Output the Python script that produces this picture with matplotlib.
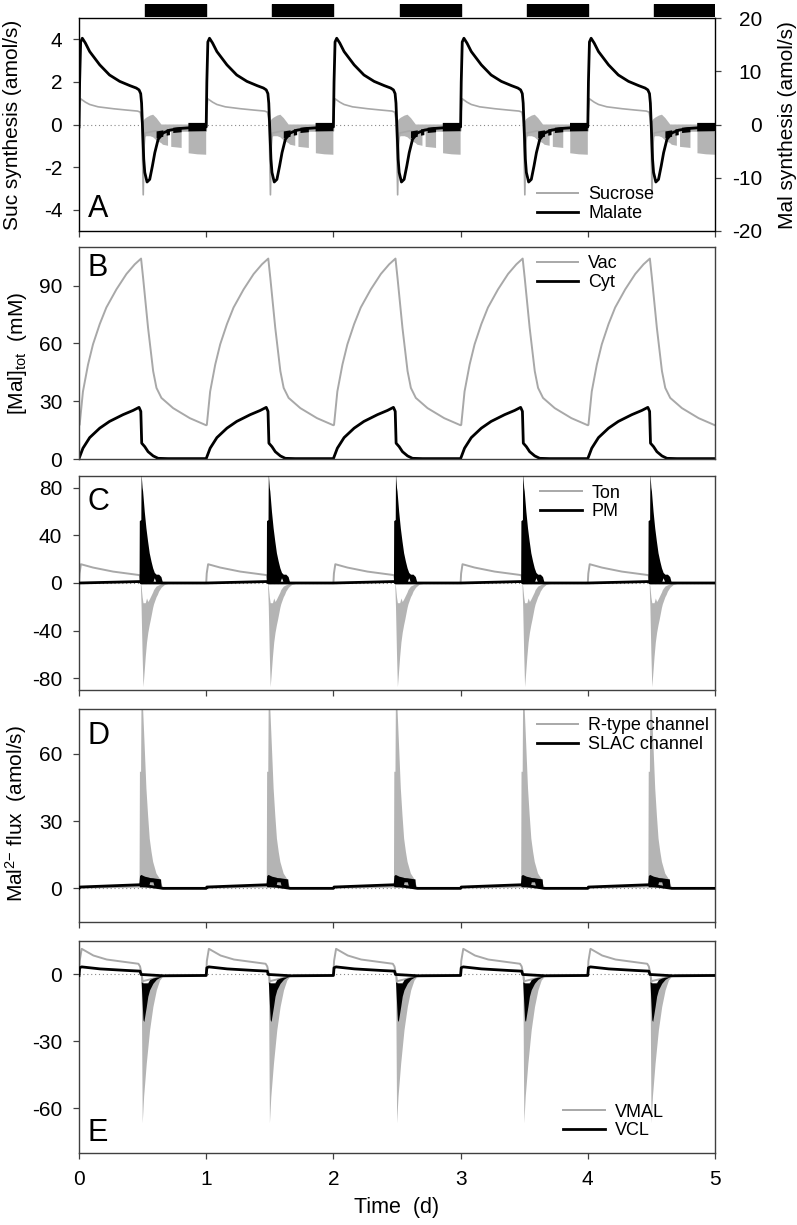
import numpy as np
import matplotlib
matplotlib.use('Agg')
import matplotlib.pyplot as plt

plt.rcParams.update({
    'font.family': 'Liberation Sans',
    'mathtext.fontset': 'custom',
    'mathtext.rm': 'Liberation Sans',
    'mathtext.it': 'Liberation Sans:italic',
    'axes.unicode_minus': False,
})

GRAY = '#a8a8a8'; FILL = '#b4b4b4'; INK = 'black'; SPINE = '#404040'

# the five simulated days look the same, so one day is read off and repeated
DAYS = [0, 1, 2, 3, 4]
night_start = [0.52, 1.52, 2.52, 3.52, 4.52]
night_end = [1.0, 2.0, 3.0, 4.0, 5.0]

# ---- A: sucrose (left, amol/s) and malate (right, amol/s) ----
suc_t = [0.0, 0.004, 0.012, 0.05, 0.084, 0.15, 0.27, 0.37, 0.46, 0.482, 0.49, 0.495, 0.505, 0.512, 0.52, 0.6, 1.0]
suc_v = [-0.3, 0.6, 1.21, 1.05, 0.94, 0.83, 0.74, 0.68, 0.63, 0.58, 0.3, 0.0, -3.3, -1.0, -0.4, -0.3, -0.3]
suc_band_t = [0.49, 0.50, 0.505, 0.51, 0.515, 0.53, 0.56, 0.583, 0.61, 0.648, 0.66, 0.70, 0.7001, 0.725, 0.7251,
              0.807, 0.8071, 0.862, 0.8621, 0.93, 1.0]
suc_band_hi = [0.0, 0.1, 0.15, 0.2, 0.25, 0.32, 0.42, 0.46, 0.3, 0.0, 0.0, 0.0, 0.0, 0.0, 0.0,
               0.0, 0.0, 0.0, 0.0, 0.0, 0.0]
suc_band_lo = [0.0, -1.5, -2.6, -1.6, -0.6, -0.55, -0.55, -0.6, -0.75, -0.88, -0.95, -1.0, -0.3, -0.3, -1.05,
               -1.1, -0.3, -0.3, -1.35, -1.4, -1.42]
mal_t = [0.0, 0.005, 0.013, 0.026, 0.05, 0.084, 0.163, 0.24, 0.32, 0.40, 0.45, 0.472, 0.485, 0.492, 0.499,
         0.509, 0.517, 0.535, 0.556, 0.577, 0.596, 0.622, 0.66, 0.714, 0.79, 0.9, 1.0]
mal_v = [-0.45, 8.0, 15.5, 16.2, 15.3, 13.7, 11.2, 9.3, 8.1, 7.3, 6.85, 6.5, 5.8, 4.0, -0.3,
         -6.5, -9.0, -10.8, -10.3, -7.8, -5.3, -2.8, -1.6, -1.06, -0.75, -0.56, -0.45]
mal_band_t = [0.61, 0.663, 0.6631, 0.689, 0.6891, 0.715, 0.7151, 0.741, 0.7411, 0.807, 0.8071, 0.86, 0.8601, 1.0]
mal_band_hi = [-1.3, -1.1, -1.1, -1.0, -0.9, -0.9, -0.9, -0.8, -0.6, -0.5, -0.5, -0.4, 0.3, 0.3]
mal_band_lo = [-2.6, -2.3, -1.1, -1.0, -2.1, -2.0, -0.9, -0.8, -1.6, -1.45, -0.5, -0.4, -1.3, -1.25]

# ---- B: total malate (mM) ----
vac_t = [0.0, 0.005, 0.031, 0.071, 0.11, 0.163, 0.215, 0.294, 0.373, 0.438, 0.488, 0.504, 0.543, 0.583,
         0.609, 0.648, 0.74, 0.871, 1.0]
vac_v = [17.5, 17.7, 35, 49, 59.5, 70, 78.6, 88, 96, 101, 104, 94, 68, 45.6, 36.9, 31.7, 26.4, 21.2, 17.5]
cyt_t = [0.0, 0.031, 0.084, 0.163, 0.24, 0.346, 0.425, 0.472, 0.486, 0.493, 0.517, 0.543, 0.583, 0.622, 0.7, 1.0]
cyt_v = [0.2, 5.6, 11.1, 16, 19.5, 23, 25.2, 26.8, 24.7, 8.2, 6.4, 3.8, 1.6, 0.35, 0.2, 0.2]

# ---- C: tonoplast and plasma membrane flux ----
ton_t = [0.0, 0.004, 0.015, 0.11, 0.268, 0.465, 0.478, 0.49, 1.0]
ton_v = [0.0, 8.0, 15.8, 13.0, 9.6, 6.8, 6.5, 0.0, 0.0]
ton_band_t = [0.486, 0.492, 0.50, 0.507, 0.514, 0.525, 0.535, 0.545, 0.556, 0.565, 0.583, 0.59, 0.61, 0.62,
              0.63, 0.65, 0.675, 0.68, 0.72, 0.76]
ton_band_hi = [0.0, -3, -12, -17, -17, -17, -13, -16, -14, -12, -8, -6, -3, -2.5, -2, -1, -0.3, 0, 0, 0]
ton_band_lo = [0.0, -20, -60, -87.6, -78, -62, -50, -42, -35.5, -31, -21, -18, -12, -10, -7.3, -4, -1.7,
               -1.5, -0.5, 0]
pm_t = [0.0, 0.47, 0.478, 0.49, 1.0]
pm_v = [0.0, 1.2, 1.2, 0.0, 0.0]
pm_band_t = [0.476, 0.478, 0.49, 0.492, 0.50, 0.504, 0.517, 0.53, 0.543, 0.556, 0.57, 0.583, 0.596, 0.61,
             0.63, 0.648, 0.658, 0.665]
pm_band_hi = [1, 52, 53, 92, 80, 77, 60, 46, 35, 25, 18, 12.4, 8.5, 7, 7, 5, 1, 0]
pm_band_lo = [0, 0, 0, 0, 0, 0, 0, 0, 0, 0, 0, 0, 4, 0, 0, 0, 0, 0]

# ---- D: channel flux (amol/s) ----
rtype_t = [0.0, 0.47, 0.476, 0.66, 1.0]
rtype_v = [0.3, 0.8, 0.8, 0.2, 0.2]
rtype_band_t = [0.476, 0.479, 0.488, 0.492, 0.50, 0.504, 0.517, 0.53, 0.543, 0.556, 0.57, 0.583, 0.609,
                0.635, 0.648, 0.66]
rtype_band_hi = [0.8, 52, 52, 90, 82, 80, 62.5, 44.6, 32.7, 22.2, 16.3, 11.8, 6.6, 4.3, 2, 0.6]
rtype_band_lo = [0.8, 0.5, 0.5, 0.5, 0.5, 0.5, 0.5, 0.5, 0.5, 0.5, 0.5, 0.5, 0.4, 0.3, 0.3, 0.2]
slac_t = [0.0, 0.005, 0.47, 0.476, 0.66, 1.0]
slac_v = [0.0, 0.6, 1.6, 1.6, 0.0, 0.0]
slac_band_t = [0.474, 0.48, 0.49, 0.52, 0.55, 0.56, 0.585, 0.595, 0.62, 0.645, 0.65, 0.66]
slac_band_hi = [1.6, 5.5, 6.0, 5.2, 4.8, 4.6, 4.5, 4.4, 4.2, 4.0, 0.5, 0.0]
slac_band_lo = [1.6, 0.5, 0.5, 0.5, 0.5, 2.7, 2.7, 0.5, 0.4, 0.3, 0.2, 0.0]

# ---- E: vacuolar transporters (amol/s) ----
vmal_t = [0.0, 0.005, 0.021, 0.113, 0.218, 0.375, 0.467, 0.48, 0.493, 0.5, 0.7, 1.0]
vmal_v = [-0.3, 6.0, 11.5, 8.5, 6.7, 5.5, 4.8, 3.6, 0.0, -3.0, -0.3, -0.3]
vmal_band_t = [0.493, 0.501, 0.512, 0.533, 0.559, 0.585, 0.612, 0.638, 0.664, 0.69]
vmal_band_hi = [0, -3, -4, -4, -3, -2, -1.5, -1, -0.5, -0.3]
vmal_band_lo = [0, -66.7, -54.8, -39.9, -25, -14.6, -7.1, -2.7, -0.9, -0.3]
vcl_t = [0.0, 0.005, 0.021, 0.165, 0.375, 0.48, 0.488, 0.67, 1.0]
vcl_v = [-0.45, 3.0, 3.4, 2.5, 1.8, 1.5, 0.0, -0.6, -0.45]
vcl_band_t = [0.486, 0.493, 0.507, 0.514, 0.533, 0.545, 0.559, 0.585, 0.612, 0.638, 0.664]
vcl_band_hi = [0, -3.5, -4, -4, -4, -4, -2.5, -1.8, -1.4, -1.2, -0.8]
vcl_band_lo = [0, -4.2, -20.5, -21.3, -14.6, -10, -7.1, -4.2, -2.4, -1.5, -0.9]


def tile(tt, *vals, gap=False):
    # repeat one day's readings for every day; a NaN between days keeps bands apart
    tt = list(tt) + ([np.nan] if gap else [])
    vals = [list(v) + ([np.nan] if gap else []) for v in vals]
    t = np.concatenate([d + np.asarray(tt, float) for d in DAYS])
    return [t] + [np.tile(np.asarray(v, float), len(DAYS)) for v in vals]


fig = plt.figure(figsize=(7.97, 12.25), dpi=100)
L, W = 79 / 797, 636 / 797


def px_axes(top, bottom):
    return fig.add_axes([L, 1 - bottom / 1225, W, (bottom - top) / 1225])


def style(ax, yticks, ylim, xlabels=False, xticks=True):
    ax.set_xlim(0, 5)
    ax.set_ylim(*ylim)
    ax.set_yticks(yticks)
    ax.set_xticks(range(6) if xticks else [])
    if not xlabels:
        ax.set_xticklabels([])
    for s in ax.spines.values():
        s.set_color(SPINE); s.set_linewidth(1.0)
    ax.tick_params(direction='out', length=4, width=0.9, color=SPINE, labelsize=15, pad=8)


def band(ax, tt, lo, hi, color, z=2):
    t, a, b = tile(tt, lo, hi, gap=True)
    ax.fill_between(t, a, b, color=color, lw=0, zorder=z)


def leg(ax, x, y):
    ax.legend(loc='center left', bbox_to_anchor=(x, y), frameon=False, fontsize=13,
              borderpad=0, borderaxespad=0, handlelength=2.3, handletextpad=0.55, labelspacing=0.1)


def zero(ax):
    ax.axhline(0, color='#888888', lw=0.8, ls=(0, (1, 2.5)), zorder=1)


# ---- night bars ----
axn = fig.add_axes([L, 1 - 17 / 1225, W, 13 / 1225])
axn.broken_barh([(s, e - s) for s, e in zip(night_start, night_end)], (0, 1), color=INK)
axn.set_xlim(0, 5); axn.set_ylim(0, 1); axn.axis('off')

# ---- A ----
axA = px_axes(18, 231)
style(axA, [-4, -2, 0, 2, 4], (-5, 5))
zero(axA)
band(axA, suc_band_t, suc_band_lo, suc_band_hi, FILL)
t, v = tile(suc_t, suc_v)
axA.plot(t, v, color=GRAY, lw=1.2, zorder=3)
axA2 = axA.twinx()
axA2.set_ylim(-20, 20)
axA2.set_yticks([-20, -10, 0, 10, 20])
axA2.tick_params(direction='out', length=4, width=0.9, color=SPINE, labelsize=15, pad=30)
for lab in axA2.get_yticklabels():
    lab.set_ha('right')
band(axA2, mal_band_t, mal_band_lo, mal_band_hi, INK)
t, v = tile(mal_t, mal_v)
axA2.plot(t, v, color=INK, lw=2.0)
axA2.plot([], [], color=GRAY, lw=1.4, label='Sucrose')
axA2.plot([], [], color=INK, lw=2.0, label='Malate')
leg(axA2, 0.72, 0.127)
axA.text(0.014, 0.035, 'A', transform=axA.transAxes, fontsize=22, va='bottom')

# ---- B ----
axB = px_axes(247, 459)
style(axB, [0, 30, 60, 90], (0, 110), xticks=False)
t, v = tile(vac_t, vac_v)
axB.plot(t, v, color=GRAY, lw=1.4, label='Vac')
t, v = tile(cyt_t, cyt_v)
axB.plot(t, v, color=INK, lw=2.0, label='Cyt')
leg(axB, 0.72, 0.877)
axB.text(0.014, 0.97, 'B', transform=axB.transAxes, fontsize=22, va='top')

# ---- C ----
axC = px_axes(476, 690)
style(axC, [-80, -40, 0, 40, 80], (-90, 90))
zero(axC)
band(axC, ton_band_t, ton_band_lo, ton_band_hi, FILL)
t, v = tile(ton_t, ton_v)
axC.plot(t, v, color=GRAY, lw=1.4, label='Ton')
band(axC, pm_band_t, pm_band_lo, pm_band_hi, INK, z=3)
t, v = tile(pm_t, pm_v)
axC.plot(t, v, color=INK, lw=2.0, label='PM', zorder=3)
leg(axC, 0.725, 0.876)
axC.text(0.014, 0.95, 'C', transform=axC.transAxes, fontsize=22, va='top')

# ---- D ----
axD = px_axes(709, 922)
style(axD, [0, 30, 60], (-15, 80))
zero(axD)
band(axD, rtype_band_t, rtype_band_lo, rtype_band_hi, FILL)
t, v = tile(rtype_t, rtype_v)
axD.plot(t, v, color=GRAY, lw=1.4, label='R-type channel')
band(axD, slac_band_t, slac_band_lo, slac_band_hi, INK, z=3)
t, v = tile(slac_t, slac_v)
axD.plot(t, v, color=INK, lw=2.0, label='SLAC channel', zorder=3)
leg(axD, 0.72, 0.878)
axD.text(0.014, 0.945, 'D', transform=axD.transAxes, fontsize=22, va='top')

# ---- E ----
axE = px_axes(941, 1153)
style(axE, [-60, -30, 0], (-80, 15), xlabels=True)
zero(axE)
band(axE, vmal_band_t, vmal_band_lo, vmal_band_hi, FILL)
t, v = tile(vmal_t, vmal_v)
axE.plot(t, v, color=GRAY, lw=1.4, label='VMAL')
band(axE, vcl_band_t, vcl_band_lo, vcl_band_hi, INK, z=3)
t, v = tile(vcl_t, vcl_v)
axE.plot(t, v, color=INK, lw=2.0, label='VCL', zorder=3)
leg(axE, 0.761, 0.149)
axE.text(0.014, 0.025, 'E', transform=axE.transAxes, fontsize=22, va='bottom')

# ---- axis titles ----
fig.text(0.016, 1 - 125 / 1225, 'Suc synthesis (amol/s)', rotation=90, ha='center', va='center', fontsize=15)
fig.text(0.9887, 1 - 125 / 1225, 'Mal synthesis (amol/s)', rotation=90, ha='center', va='center', fontsize=15)
fig.text(0.022, 1 - 353 / 1225, r'[Mal]$_{\rm tot}$  (mM)', rotation=90, ha='center', va='center', fontsize=15)
fig.text(0.02, 1 - 814 / 1225, r'Mal$^{2\rm{-}}$ flux  (amol/s)', rotation=90, ha='center', va='center', fontsize=15)
fig.text(397 / 797, 1 - 1207 / 1225, 'Time  (d)', ha='center', va='center', fontsize=15.5)

fig.savefig('out.png', dpi=100, facecolor='white')
